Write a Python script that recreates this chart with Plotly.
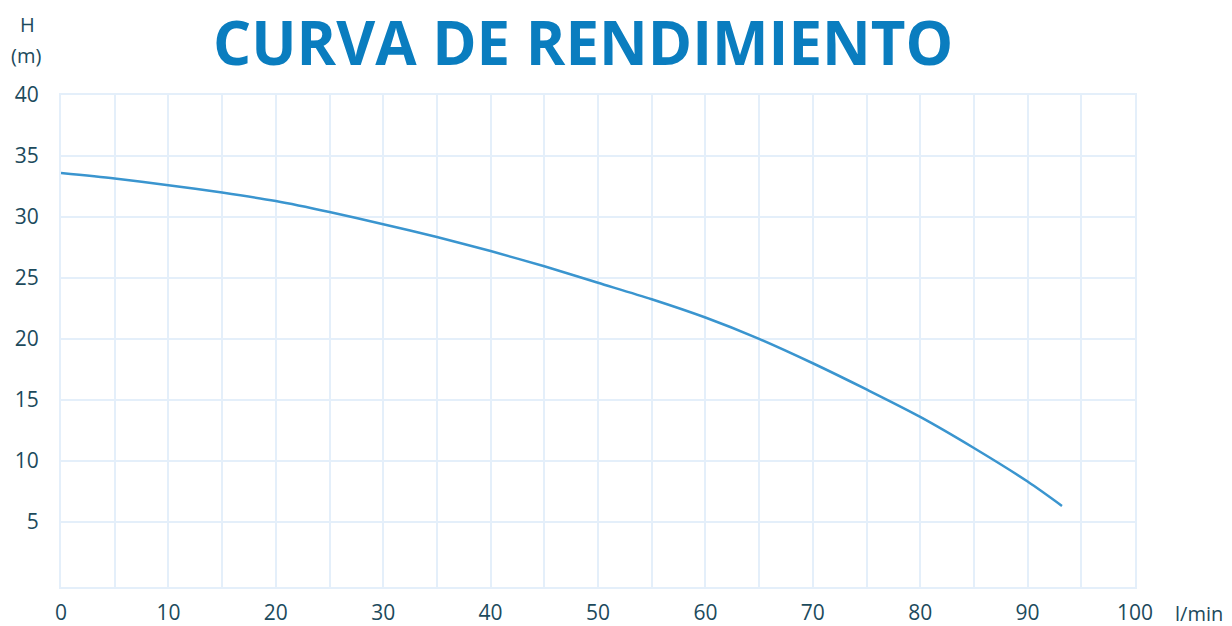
import plotly.graph_objects as go

flow = [0, 5, 10, 15, 20, 25, 30, 35, 40, 45, 50, 55, 60, 65, 70, 75, 80, 85, 90, 93.2]
head = [33.6, 33.15, 32.6, 32.0, 31.3, 30.4, 29.4, 28.35, 27.2, 25.95, 24.6, 23.25, 21.75, 20.0, 18.0, 15.85, 13.6, 11.05, 8.3, 6.3]

x_ticks = [0, 10, 20, 30, 40, 50, 60, 70, 80, 90, 100]
y_ticks = [5, 10, 15, 20, 25, 30, 35, 40]

title_text = "CURVA DE RENDIMIENTO"
y_unit_top = "H"
y_unit_bottom = "(m)"
x_unit = "l/min"

W, H = 1232, 626
# target plot area in screen pixels
PL, PR, PT, PB = 61, 1135, 95, 587
ml, mt = PL, PT
mr, mb = W - PR, H - PB
pw, ph = PR - PL, PB - PT


def px(xs):
    return (xs - PL) / pw


def py(ys):
    return (PB - ys) / ph


grid = "#e4effa"
tick_col = "#1c4a5c"

fig = go.Figure()
fig.add_trace(go.Scatter(x=flow, y=head, mode="lines",
                         line=dict(color="#3a95cf", width=2.5, shape="spline", smoothing=0.8),
                         hoverinfo="skip", showlegend=False))

fig.update_layout(
    width=W, height=H,
    margin=dict(l=ml, r=mr, t=mt, b=mb, autoexpand=False),
    paper_bgcolor="white", plot_bgcolor="white",
    font=dict(family="Open Sans", color=tick_col, size=21),
    xaxis=dict(range=[0, 100], tickvals=x_ticks, ticktext=[str(v) for v in x_ticks],
               showgrid=True, gridcolor=grid, gridwidth=2,
               minor=dict(dtick=5, showgrid=True, gridcolor=grid, gridwidth=2, ticks=""),
               showline=True, linecolor=grid, linewidth=2, mirror=True,
               zeroline=False, ticks="outside", ticklen=6, tickcolor="rgba(0,0,0,0)",
               automargin=False,
               tickfont=dict(size=21, color=tick_col, family="Open Sans")),
    yaxis=dict(range=[-0.35, 40], tickvals=y_ticks, ticktext=[str(v) for v in y_ticks],
               showgrid=True, gridcolor=grid, gridwidth=2,
               showline=True, linecolor=grid, linewidth=2, mirror=True,
               zeroline=False, ticks="outside", ticklen=16, tickcolor="rgba(0,0,0,0)",
               automargin=False,
               tickfont=dict(size=21, color=tick_col, family="Open Sans")),
)

fig.add_annotation(text="<b>" + title_text + "</b>", xref="paper", yref="paper",
                   x=px(583), y=py(42), xanchor="center", yanchor="middle",
                   showarrow=False, height=66,
                   font=dict(family="Open Sans", size=60, color="#0a7dbf"))
fig.add_annotation(text=y_unit_top, xref="paper", yref="paper",
                   x=px(27), y=py(25), xanchor="center", yanchor="middle",
                   showarrow=False, font=dict(family="Open Sans", size=20, color=tick_col))
fig.add_annotation(text=y_unit_bottom, xref="paper", yref="paper",
                   x=px(26), y=py(55), xanchor="center", yanchor="middle",
                   showarrow=False, font=dict(family="Open Sans", size=20, color=tick_col))
fig.add_annotation(text=x_unit, xref="paper", yref="paper",
                   x=px(1174), y=py(613), xanchor="left", yanchor="middle",
                   showarrow=False, borderpad=0, height=22,
                   font=dict(family="Open Sans", size=20, color=tick_col))

fig.write_html("out.html", config={"displayModeBar": False},
               post_script="document.body.style.margin='0';document.body.style.overflow='hidden';")
